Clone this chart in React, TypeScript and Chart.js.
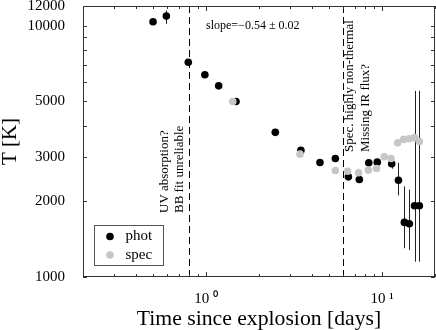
import React, { useEffect, useRef } from 'react';
import { Chart, registerables } from 'chart.js';
Chart.register(...registerables);

// ---- data ----
const PHOT_DAYS = [0.5, 0.595, 0.793, 0.985, 1.18, 1.48, 2.475, 3.46, 4.44, 5.43, 6.44, 7.43, 8.41, 9.4, 11.35, 12.4, 13.4, 14.3, 15.3, 16.3];
const PHOT_TEMP = [10380, 10940, 7160, 6390, 5770, 5000, 3767, 3192, 2858, 2965, 2505, 2444, 2850, 2866, 2823, 2427, 1650, 1630, 1923, 1923];
const PHOT_LOW: (number | null)[] = [null, 10190, null, null, null, null, null, null, null, null, null, null, null, null, 2700, 2114, 1302, 1282, 1151, 1151];
const PHOT_HIGH: (number | null)[] = [null, 11510, null, null, null, null, null, null, null, null, null, null, null, null, 2950, 2850, 2296, 2228, 5510, 5510];

const SPEC_DAYS = [1.42, 3.42, 5.43, 6.38, 7.36, 8.36, 9.31, 10.3, 11.25, 12.27, 13.27, 14.3, 15.3, 16.3];
const SPEC_TEMP = [5000, 3085, 2655, 2638, 2600, 2660, 2704, 3013, 2965, 3425, 3532, 3552, 3589, 3462];

const VLINE_DAYS = [0.8, 6];
const X_TICKS = [0.2, 0.3, 0.4, 0.5, 0.6, 0.7, 0.8, 0.9, 1, 2, 3, 4, 5, 6, 7, 8, 9, 10, 20];
const X_MAJOR = [1, 10];
const X_LABELS: Record<number, string> = { 1: '10 \u2070', 10: '10 \u00b9' };
const Y_TICKS = [1000, 2000, 3000, 4000, 5000, 6000, 7000, 8000, 9000, 10000, 12000];
const Y_LABELED = [1000, 2000, 3000, 5000, 10000, 12000];

const SERIES_NAMES = ['phot', 'spec'];
const SLOPE_TEXT = 'slope=\u22120.54 \u00b1 0.02';
const SLOPE_AT = { x: 1.0, y: 10000 };
const NOTE_LEFT = ['UV absorption?', 'BB fit unreliable'];
const NOTE_RIGHT = ['Spec. highly non-thermal', 'Missing IR flux?'];

const FONT = 'Liberation Serif';
const PHOT_COLOR = '#000000';
const SPEC_COLOR = '#c6c6c6';
const AXIS_COLOR = '#333333';

const decor = {
  id: 'decor',
  beforeDatasetsDraw(chart: any) {
    const { ctx, chartArea: a, scales } = chart;
    const xs = scales.x, ys = scales.y;
    ctx.save();
    ctx.strokeStyle = '#000';
    ctx.lineWidth = 1;
    ctx.setLineDash([7, 4]);
    VLINE_DAYS.forEach((d) => {
      const px = Math.round(xs.getPixelForValue(d)) + 0.5;
      ctx.beginPath();
      ctx.moveTo(px, a.top);
      ctx.lineTo(px, a.bottom);
      ctx.stroke();
    });
    ctx.setLineDash([]);
    ctx.strokeStyle = '#222';
    PHOT_DAYS.forEach((d, i) => {
      const lo = PHOT_LOW[i], hi = PHOT_HIGH[i];
      if (lo == null || hi == null) return;
      const px = Math.round(xs.getPixelForValue(d)) + 0.5;
      ctx.beginPath();
      ctx.moveTo(px, ys.getPixelForValue(lo));
      ctx.lineTo(px, ys.getPixelForValue(hi));
      ctx.stroke();
    });
    ctx.restore();
  },
  afterDatasetsDraw(chart: any) {
    const { ctx, chartArea: a, scales } = chart;
    const xs = scales.x, ys = scales.y;
    ctx.save();
    ctx.strokeStyle = AXIS_COLOR;
    ctx.lineWidth = 1;
    ctx.strokeRect(a.left + 0.5, a.top + 0.5, a.right - a.left - 1, a.bottom - a.top - 1);
    ctx.beginPath();
    X_TICKS.forEach((v) => {
      const px = Math.round(xs.getPixelForValue(v)) + 0.5;
      const len = X_MAJOR.includes(v) ? 5 : 3;
      ctx.moveTo(px, a.bottom);
      ctx.lineTo(px, a.bottom - len);
      ctx.moveTo(px, a.top);
      ctx.lineTo(px, a.top + len);
    });
    Y_TICKS.forEach((v) => {
      const py = Math.round(ys.getPixelForValue(v)) + 0.5;
      ctx.moveTo(a.left, py);
      ctx.lineTo(a.left + 4, py);
      ctx.moveTo(a.right, py);
      ctx.lineTo(a.right - 4, py);
    });
    ctx.stroke();

    ctx.fillStyle = '#000';
    ctx.font = `12px "${FONT}"`;
    ctx.textAlign = 'left';
    ctx.textBaseline = 'middle';
    ctx.fillText(SLOPE_TEXT, xs.getPixelForValue(SLOPE_AT.x), ys.getPixelForValue(SLOPE_AT.y));

    const drawRot = (text: string, x: number, y: number) => {
      ctx.save();
      ctx.translate(x, y);
      ctx.rotate(-Math.PI / 2);
      ctx.textAlign = 'left';
      ctx.textBaseline = 'alphabetic';
      ctx.fillText(text, 0, 0);
      ctx.restore();
    };
    ctx.font = `13px "${FONT}"`;
    const v1 = xs.getPixelForValue(VLINE_DAYS[0]);
    const v2 = xs.getPixelForValue(VLINE_DAYS[1]);
    drawRot(NOTE_LEFT[0], v1 - 21, 213);
    drawRot(NOTE_LEFT[1], v1 - 6, 213);
    drawRot(NOTE_RIGHT[0], v2 + 10, 152);
    drawRot(NOTE_RIGHT[1], v2 + 26, 152);

    const lx = a.left + 11.5, ly = a.bottom - 51.5, lw = 69, lh = 40;
    ctx.fillStyle = '#fff';
    ctx.fillRect(lx, ly, lw, lh);
    ctx.strokeStyle = '#555';
    ctx.strokeRect(lx, ly, lw, lh);
    const colors = [PHOT_COLOR, SPEC_COLOR];
    const names = chart.data.datasets.map((d: any) => d.label);
    names.forEach((n: string, i: number) => {
      const cy = ly + 11 + i * 18.5;
      ctx.fillStyle = colors[i];
      ctx.beginPath();
      ctx.arc(lx + 15.5, cy, 3.8, 0, Math.PI * 2);
      ctx.fill();
      ctx.fillStyle = '#000';
      ctx.font = `15px "${FONT}"`;
      ctx.textAlign = 'left';
      ctx.textBaseline = 'middle';
      ctx.fillText(n, lx + 31, cy);
    });
    ctx.restore();
  },
};

export default function App() {
  const ref = useRef<HTMLCanvasElement | null>(null);
  useEffect(() => {
    if (!ref.current) return;
    Chart.defaults.font.family = FONT;
    const chart = new Chart(ref.current, {
      type: 'scatter',
      data: {
        datasets: [
          {
            label: SERIES_NAMES[0],
            data: PHOT_DAYS.map((d, i) => ({ x: d, y: PHOT_TEMP[i] })),
            backgroundColor: PHOT_COLOR,
            borderWidth: 0,
            pointRadius: 3.8,
            order: 2,
          },
          {
            label: SERIES_NAMES[1],
            data: SPEC_DAYS.map((d, i) => ({ x: d, y: SPEC_TEMP[i] })),
            backgroundColor: SPEC_COLOR,
            borderWidth: 0,
            pointRadius: 3.8,
            order: 1,
          },
        ],
      },
      options: {
        animation: false,
        responsive: false,
        layout: { autoPadding: false, padding: { top: 6, right: 1, left: 0, bottom: 0 } },
        plugins: { legend: { display: false }, tooltip: { enabled: false } },
        scales: {
          x: {
            type: 'logarithmic',
            min: 0.2,
            max: 20,
            grid: { display: false, drawTicks: true, tickLength: 13 },
            border: { display: false },
            afterBuildTicks: (s: any) => {
              s.ticks = X_TICKS.map((v) => ({ value: v, major: X_MAJOR.includes(v) }));
            },
            afterFit: (s: any) => {
              s.height = 53;
              s.paddingLeft = 0;
              s.paddingRight = 0;
            },
            ticks: {
              autoSkip: false,
              maxRotation: 0,
              padding: 0,
              color: '#000',
              font: { size: 15, family: FONT },
              callback: (v: any) => X_LABELS[Number(v)] ?? '',
            },
            title: {
              display: true,
              text: 'Time since explosion [days]',
              color: '#000',
              font: { size: 21.7, family: FONT, lineHeight: 1 },
              padding: { top: 0, bottom: 0 },
            },
          },
          y: {
            type: 'logarithmic',
            min: 1000,
            max: 12000,
            grid: { display: false, drawTicks: true, tickLength: 18 },
            border: { display: false },
            afterBuildTicks: (s: any) => {
              s.ticks = Y_TICKS.map((v) => ({ value: v }));
            },
            afterFit: (s: any) => {
              s.width = 83;
              s.paddingTop = 0;
              s.paddingBottom = 0;
            },
            ticks: {
              autoSkip: false,
              padding: 0,
              color: '#000',
              font: { size: 15, family: FONT, lineHeight: 0.8 },
              callback: (v: any) => (Y_LABELED.includes(Number(v)) ? String(v) : ''),
            },
            title: {
              display: true,
              text: 'T [K]',
              color: '#000',
              font: { size: 21, family: FONT, lineHeight: 1 },
              padding: { top: 0, bottom: 0 },
            },
          },
        },
      },
      plugins: [decor],
    });
    return () => chart.destroy();
  }, []);
  return (
    <div style={{ position: 'fixed', left: 0, top: 0, width: 436, height: 330, background: '#fff' }}>
      <canvas ref={ref} width={436} height={330} style={{ display: 'block', width: 436, height: 330 }} />
    </div>
  );
}
